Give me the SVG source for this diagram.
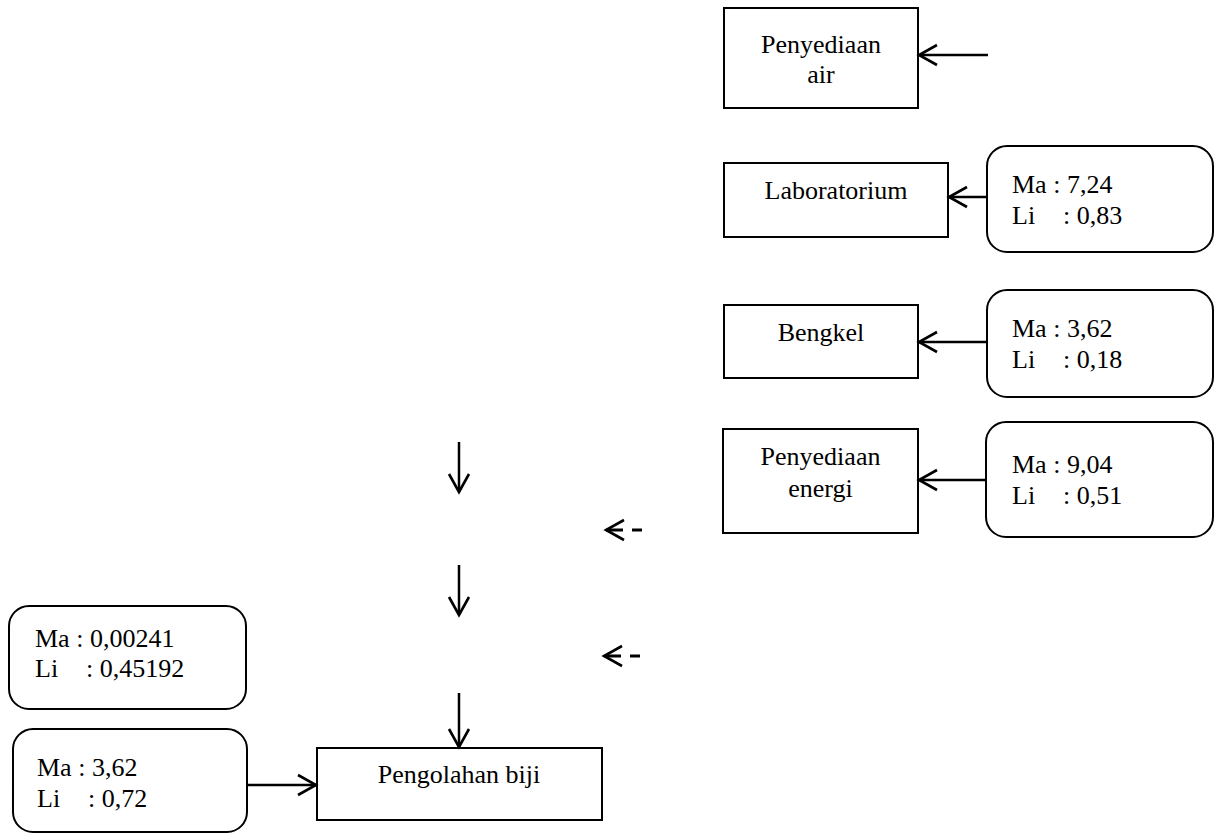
<svg xmlns="http://www.w3.org/2000/svg" width="1214" height="834" viewBox="0 0 1214 834">
<style>
  .box { fill: #fff; stroke: #000; stroke-width: 2; }
  .rbox { fill: #fff; stroke: #000; stroke-width: 2; }
  .t { font-family: "Liberation Serif", "Times New Roman", serif; font-size: 26px; fill: #000; }
  .c { text-anchor: middle; }
  .conn { stroke: #000; stroke-width: 2.5; fill: none; marker-end: url(#arr); }
  .dash { stroke-width: 3; stroke-dasharray: 10 9 20 100; }
</style>
<defs>
  <marker id="arr" markerUnits="userSpaceOnUse" viewBox="-20 -12 22 24" refX="0" refY="0" markerWidth="22" markerHeight="24" orient="auto" overflow="visible">
    <path d="M-18,-10 L0,0 L-18,10" fill="none" stroke="#000" stroke-width="2.6"/>
  </marker>
</defs>
<rect width="1214" height="834" fill="#fff"/>

<g id="penyediaan-air">
  <rect class="box" x="724" y="8" width="194" height="100"/>
  <text class="t c" x="821" y="53">Penyediaan</text>
  <text class="t c" x="821" y="83">air</text>
</g>

<g id="laboratorium">
  <rect class="box" x="724" y="163" width="224" height="74"/>
  <text class="t c" x="836" y="199">Laboratorium</text>
</g>

<g id="lab-input">
  <rect class="rbox" x="987" y="146" width="226" height="106" rx="20" ry="20"/>
  <text class="t" x="1012" y="193">Ma : 7,24</text>
  <text class="t" x="1012" y="224">Li<tspan x="1063">: 0,83</tspan></text>
</g>

<g id="bengkel">
  <rect class="box" x="724" y="305" width="194" height="73"/>
  <text class="t c" x="821" y="341">Bengkel</text>
</g>

<g id="bengkel-input">
  <rect class="rbox" x="987" y="290" width="226" height="107" rx="20" ry="20"/>
  <text class="t" x="1012" y="337">Ma : 3,62</text>
  <text class="t" x="1012" y="368">Li<tspan x="1063">: 0,18</tspan></text>
</g>

<g id="penyediaan-energi">
  <rect class="box" x="723" y="429" width="195" height="104"/>
  <text class="t c" x="820.5" y="465">Penyediaan</text>
  <text class="t c" x="820.5" y="497">energi</text>
</g>

<g id="energi-input">
  <rect class="rbox" x="986" y="422" width="227" height="115" rx="20" ry="20"/>
  <text class="t" x="1012" y="473">Ma : 9,04</text>
  <text class="t" x="1012" y="504">Li<tspan x="1063">: 0,51</tspan></text>
</g>

<g id="output-1">
  <rect class="rbox" x="9" y="606" width="237" height="103" rx="20" ry="20"/>
  <text class="t" x="35" y="647">Ma : 0,00241</text>
  <text class="t" x="35" y="677">Li<tspan x="86">: 0,45192</tspan></text>
</g>

<g id="input-biji">
  <rect class="rbox" x="13" y="729" width="234" height="103" rx="20" ry="20"/>
  <text class="t" x="37" y="776">Ma : 3,62</text>
  <text class="t" x="37" y="807">Li<tspan x="88">: 0,72</tspan></text>
</g>

<g id="pengolahan-biji">
  <rect class="box" x="317" y="748" width="285" height="72"/>
  <text class="t c" x="459" y="783">Pengolahan biji</text>
</g>

<g id="connectors">
  <line class="conn" x1="988" y1="55" x2="919" y2="55"/>
  <line class="conn" x1="987" y1="197" x2="949" y2="197"/>
  <line class="conn" x1="987" y1="342" x2="919" y2="342"/>
  <line class="conn" x1="986" y1="480" x2="919" y2="480"/>
  <line class="conn" x1="459" y1="442" x2="459" y2="492"/>
  <line class="conn" x1="459" y1="565" x2="459" y2="615"/>
  <line class="conn" x1="459" y1="693" x2="459" y2="747"/>
  <line class="conn dash" x1="642" y1="530" x2="606" y2="530"/>
  <line class="conn dash" x1="640" y1="656" x2="604" y2="656"/>
  <line class="conn" x1="247" y1="785" x2="316" y2="785"/>
</g>
</svg>
